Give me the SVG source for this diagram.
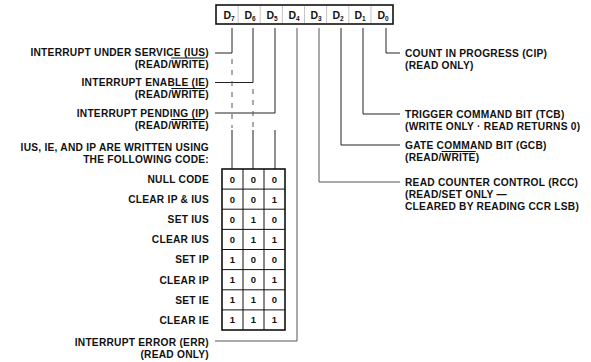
<svg xmlns="http://www.w3.org/2000/svg" width="591" height="362" viewBox="0 0 591 362">
<style>
text{font-family:"Liberation Sans",Arial,sans-serif;font-weight:bold;font-size:10.2px;fill:#111;letter-spacing:0.25px}
.l{text-anchor:end}
.c{text-anchor:middle;font-size:9.5px;letter-spacing:0}
.reg{font-size:10.5px;text-anchor:middle;letter-spacing:0}
.sub{font-size:6.5px}
.ln{stroke:#222;stroke-width:1;fill:none}
.fl{stroke:#555;stroke-width:1;fill:none}
.ds{stroke:#555;stroke-width:1;fill:none;stroke-dasharray:5 6}
.ov{text-decoration:overline}
</style>
<rect width="591" height="362" fill="#fff"/>
<g id="register">
<rect x="216" y="5" width="177" height="19" fill="none" stroke="#111" stroke-width="1.6"/>
<g stroke="#aaa" stroke-width="0.7">
<line x1="238.1" y1="6" x2="238.1" y2="23"/><line x1="260.2" y1="6" x2="260.2" y2="23"/><line x1="282.4" y1="6" x2="282.4" y2="23"/><line x1="304.5" y1="6" x2="304.5" y2="23"/><line x1="326.6" y1="6" x2="326.6" y2="23"/><line x1="348.8" y1="6" x2="348.8" y2="23"/><line x1="370.9" y1="6" x2="370.9" y2="23"/>
</g>
<text class="reg" x="229" y="18.5">D<tspan class="sub" dy="2">7</tspan></text>
<text class="reg" x="250" y="18.5">D<tspan class="sub" dy="2">6</tspan></text>
<text class="reg" x="272" y="18.5">D<tspan class="sub" dy="2">5</tspan></text>
<text class="reg" x="294" y="18.5">D<tspan class="sub" dy="2">4</tspan></text>
<text class="reg" x="316" y="18.5">D<tspan class="sub" dy="2">3</tspan></text>
<text class="reg" x="338" y="18.5">D<tspan class="sub" dy="2">2</tspan></text>
<text class="reg" x="360" y="18.5">D<tspan class="sub" dy="2">1</tspan></text>
<text class="reg" x="383" y="18.5">D<tspan class="sub" dy="2">0</tspan></text>
</g>
<g id="connectors">
<polyline class="ln" points="215,53 232,53 232,28"/>
<polyline class="ln" points="215,82.5 253,82.5 253,28"/>
<polyline class="ln" points="215,113 275,113 275,28"/>
<polyline class="fl" points="215,341 297,341 297,28"/>
<polyline class="fl" points="400,182 319,182 319,28"/>
<polyline class="ln" points="400,145 341,145 341,28"/>
<polyline class="ln" points="400,114 363,114 363,28"/>
<polyline class="ln" points="400,53 386,53 386,28"/>
<line class="ds" x1="232" y1="59" x2="232" y2="128"/>
<line class="ds" x1="253" y1="89" x2="253" y2="128"/>
<line class="ln" x1="232" y1="130" x2="232" y2="169"/>
<line class="ln" x1="253" y1="130" x2="253" y2="169"/>
<line class="ln" x1="275" y1="130" x2="275" y2="169"/>
</g>
<g id="table">
<rect x="222" y="169" width="63" height="161" fill="none" stroke="#111" stroke-width="1.6"/>
<g stroke="#111" stroke-width="1">
<line x1="243" y1="169" x2="243" y2="330"/><line x1="264" y1="169" x2="264" y2="330"/>
<line x1="222" y1="189.1" x2="285" y2="189.1"/><line x1="222" y1="209.2" x2="285" y2="209.2"/><line x1="222" y1="229.4" x2="285" y2="229.4"/><line x1="222" y1="249.5" x2="285" y2="249.5"/><line x1="222" y1="269.6" x2="285" y2="269.6"/><line x1="222" y1="289.8" x2="285" y2="289.8"/><line x1="222" y1="309.9" x2="285" y2="309.9"/>
</g>
<text class="c" x="232.5" y="182.5">0</text><text class="c" x="253.5" y="182.5">0</text><text class="c" x="274.5" y="182.5">0</text>
<text class="c" x="232.5" y="202.6">0</text><text class="c" x="253.5" y="202.6">0</text><text class="c" x="274.5" y="202.6">1</text>
<text class="c" x="232.5" y="222.7">0</text><text class="c" x="253.5" y="222.7">1</text><text class="c" x="274.5" y="222.7">0</text>
<text class="c" x="232.5" y="242.8">0</text><text class="c" x="253.5" y="242.8">1</text><text class="c" x="274.5" y="242.8">1</text>
<text class="c" x="232.5" y="262.9">1</text><text class="c" x="253.5" y="262.9">0</text><text class="c" x="274.5" y="262.9">0</text>
<text class="c" x="232.5" y="283">1</text><text class="c" x="253.5" y="283">0</text><text class="c" x="274.5" y="283">1</text>
<text class="c" x="232.5" y="303.1">1</text><text class="c" x="253.5" y="303.1">1</text><text class="c" x="274.5" y="303.1">0</text>
<text class="c" x="232.5" y="323.2">1</text><text class="c" x="253.5" y="323.2">1</text><text class="c" x="274.5" y="323.2">1</text>
</g>
<g id="labels-left">
<text class="l" x="209" y="56">INTERRUPT UNDER SERVICE (IUS)</text>
<text class="l" x="209" y="67.5">(READ/<tspan class="ov">WRITE</tspan>)</text>
<text class="l" x="209" y="85.5">INTERRUPT ENABLE (IE)</text>
<text class="l" x="209" y="98">(READ/<tspan class="ov">WRITE</tspan>)</text>
<text class="l" x="209" y="116.5">INTERRUPT PENDING (IP)</text>
<text class="l" x="209" y="129">(READ/<tspan class="ov">WRITE</tspan>)</text>
<text class="l" x="209" y="151">IUS, IE, AND IP ARE WRITTEN USING</text>
<text class="l" x="209" y="163">THE FOLLOWING CODE:</text>
<text class="l" x="209" y="183">NULL CODE</text>
<text class="l" x="209" y="203.1">CLEAR IP &amp; IUS</text>
<text class="l" x="209" y="223.2">SET IUS</text>
<text class="l" x="209" y="243.3">CLEAR IUS</text>
<text class="l" x="209" y="263.4">SET IP</text>
<text class="l" x="209" y="283.5">CLEAR IP</text>
<text class="l" x="209" y="303.6">SET IE</text>
<text class="l" x="209" y="323.7">CLEAR IE</text>
<text class="l" x="209" y="345.5">INTERRUPT ERROR (ERR)</text>
<text class="l" x="209" y="357.5">(READ ONLY)</text>
</g>
<g id="labels-right">
<text x="405" y="57">COUNT IN PROGRESS (CIP)</text>
<text x="405" y="69">(READ ONLY)</text>
<text x="405" y="118">TRIGGER COMMAND BIT (TCB)</text>
<text x="405" y="130">(WRITE ONLY · READ RETURNS 0)</text>
<text x="405" y="149">GATE COMMAND BIT (GCB)</text>
<text x="405" y="161">(READ/<tspan class="ov">WRITE</tspan>)</text>
<text x="405" y="186">READ COUNTER CONTROL (RCC)</text>
<text x="405" y="198">(READ/SET ONLY —</text>
<text x="405" y="210">CLEARED BY READING CCR LSB)</text>
</g>
</svg>
